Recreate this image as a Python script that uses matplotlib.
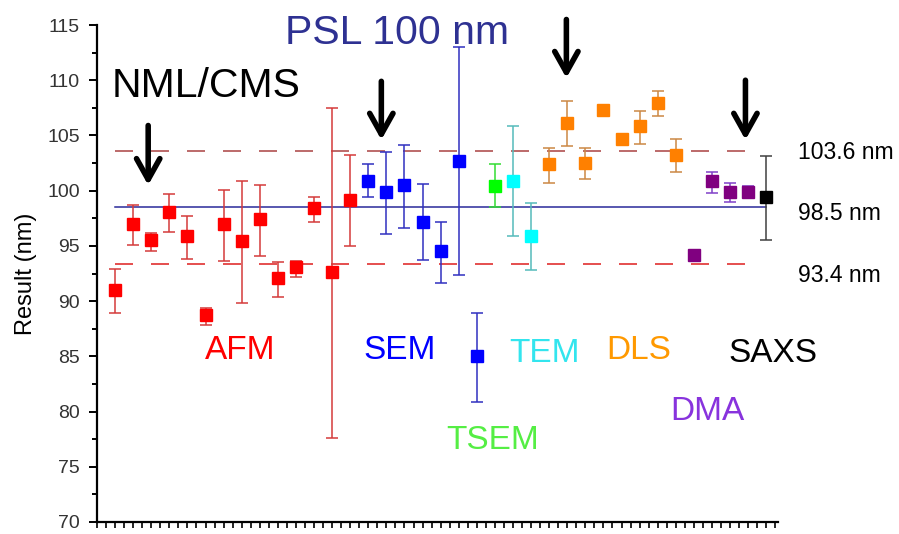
import numpy as np
import matplotlib
matplotlib.use("Agg")
import matplotlib.pyplot as plt
from matplotlib.ticker import MultipleLocator, NullFormatter

plt.rcParams['font.family'] = ['Liberation Sans', 'DejaVu Sans']

# measured results (nm) with upper / lower ends of the error bars
afm_val = [91.0, 97.0, 95.5, 98.1, 95.9, 88.7, 97.0, 95.4, 97.4, 92.1, 93.1, 98.4, 92.6, 99.2]
afm_hi = [92.9, 98.7, 96.2, 99.7, 97.7, 89.4, 100.1, 100.9, 100.5, 93.5, 93.6, 99.4, 107.5, 103.2]
afm_lo = [88.9, 95.1, 94.5, 96.3, 93.8, 87.8, 93.6, 89.8, 94.1, 90.4, 92.2, 97.2, 77.6, 95.0]

sem_val = [100.9, 99.9, 100.5, 97.2, 94.5, 102.7, 85.0]
sem_hi = [102.4, 103.5, 104.1, 100.6, 97.2, 113.0, 88.9]
sem_lo = [99.4, 96.1, 96.6, 93.7, 91.6, 92.4, 80.9]

tsem_val = [100.4]
tsem_hi = [102.4]
tsem_lo = [98.5]

tem_val = [100.9, 95.9]
tem_hi = [105.9, 98.9]
tem_lo = [95.9, 92.8]

dls_val = [102.4, 106.1, 102.5, 107.3, 104.7, 105.9, 107.9, 103.2]
dls_hi = [103.9, 108.1, 103.9, 107.3, 104.7, 107.2, 109.0, 104.7]
dls_lo = [100.7, 104.0, 101.1, 107.3, 104.7, 104.2, 106.8, 101.7]

dma_val = [94.2, 100.9, 99.9, 99.9]
dma_hi = [94.2, 101.7, 100.7, 100.4]
dma_lo = [94.2, 99.8, 99.0, 99.4]

saxs_val = [99.4]
saxs_hi = [103.1]
saxs_lo = [95.5]

ref_mean = 98.5
ref_upper = 103.6
ref_lower = 93.4

# name, values, hi, lo, marker colour, bar colour, label colour, label position
groups = [
    ("AFM", afm_val, afm_hi, afm_lo, "#FF0000", "#D43A3A", "#FF0000", (7.9, 85.5)),
    ("SEM", sem_val, sem_hi, sem_lo, "#0000FF", "#3030C0", "#0000FF", (16.75, 85.5)),
    ("TSEM", tsem_val, tsem_hi, tsem_lo, "#00FF00", "#33DD33", "#55EE44", (21.85, 77.4)),
    ("TEM", tem_val, tem_hi, tem_lo, "#00FFFF", "#55BBBB", "#33E5EE", (24.75, 85.3)),
    ("DLS", dls_val, dls_hi, dls_lo, "#FF8000", "#CC8844", "#FF9900", (29.95, 85.5)),
    ("DMA", dma_val, dma_hi, dma_lo, "#800080", "#8040C8", "#8833DD", (33.75, 80.0)),
    ("SAXS", saxs_val, saxs_hi, saxs_lo, "#000000", "#404040", "#000000", (37.35, 85.3)),
]

fig = plt.figure(figsize=(8.99, 5.34), dpi=100)
ax = fig.add_axes([97 / 899, 12 / 534, 681 / 899, 497 / 534])

# reference lines
ax.plot([1, 37], [ref_mean, ref_mean], color="#2A2A9A", lw=1.1, zorder=1)
ax.plot([1, 36], [ref_upper, ref_upper], color="#B05050", lw=1.2, dashes=(10.8, 10.8), zorder=1)
ax.plot([1, 36], [ref_lower, ref_lower], color="#E03030", lw=1.2, dashes=(10.8, 10.8), zorder=1)

pos = 1
for name, val, hi, lo, mc, ec, tc, (tx, ty) in groups:
    val = np.array(val)
    x = np.arange(pos, pos + len(val))
    yerr = [val - np.array(lo), np.array(hi) - val]
    ax.errorbar(x, val, yerr=yerr, fmt="s", ms=8.7, mfc=mc, mec=mc,
                ecolor=ec, elinewidth=1.1, capsize=4, capthick=1.1, zorder=3)
    ax.text(tx, ty, name, color=tc, fontsize=24, ha="center", va="center")
    pos += len(val)

# right-hand labels for the reference lines
for yv, txt in [(103.45, "103.6 nm"), (97.95, "98.5 nm"), (92.3, "93.4 nm")]:
    ax.text(38.75, yv, txt, fontsize=16.5, ha="left", va="center", clip_on=False)

ax.text(16.6, 114.3, "PSL 100 nm", color="#2E3192", fontsize=29.5, ha="center", va="center")
ax.text(0.8, 109.5, "NML/CMS", color="black", fontsize=29.5, ha="left", va="center")

# arrows
for xa, y0, y1 in [(2.83, 105.9, 100.5), (15.72, 109.9, 104.6),
                   (25.95, 115.5, 110.2), (35.85, 110.0, 104.6)]:
    ax.annotate("", xy=(xa, y1), xytext=(xa, y0), annotation_clip=False,
                arrowprops=dict(arrowstyle="->,head_length=0.75,head_width=0.42",
                                lw=4, color="black", mutation_scale=20,
                                shrinkA=0, shrinkB=0))

ax.set_xlim(0, 37.65)
ax.set_ylim(70, 115)
ax.spines["top"].set_visible(False)
ax.spines["right"].set_visible(False)
ax.spines["left"].set_linewidth(1.6)
ax.spines["bottom"].set_linewidth(1.6)

ax.xaxis.set_major_locator(MultipleLocator(1))
ax.xaxis.set_minor_locator(MultipleLocator(0.5))
ax.xaxis.set_major_formatter(NullFormatter())
ax.yaxis.set_major_locator(MultipleLocator(5))
ax.yaxis.set_minor_locator(MultipleLocator(2.5))
ax.tick_params(axis="x", which="both", direction="out", length=4.5, width=1.2)
ax.tick_params(axis="y", which="major", direction="out", length=5.5, width=1.4,
               labelsize=14, labelcolor="#333333", pad=7)
ax.tick_params(axis="y", which="minor", direction="out", length=3.5, width=1.4)

ax.set_ylabel("Result (nm)", fontsize=17)
ax.yaxis.set_label_coords(-0.088, 0.5)

fig.savefig("out.png", dpi=100)
